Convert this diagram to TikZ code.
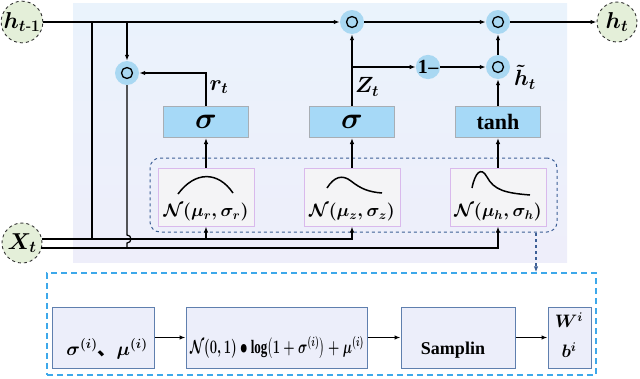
\RequirePackage{fix-cm}
\documentclass[tikz,border=0pt]{standalone}
\usepackage{fontspec}
\setmainfont{Liberation Serif}
\newfontfamily\cjkfont{Noto Sans CJK SC}
\usepackage{amsmath,bm,graphicx}
\usetikzlibrary{arrows.meta}
\definecolor{panelTop}{HTML}{EAF3FC}
\definecolor{panelBot}{HTML}{EEEEFA}
\definecolor{gateBlue}{HTML}{A6D9F7}
\definecolor{gateEdge}{HTML}{A8AEB4}
\definecolor{opBlue}{HTML}{A9D8F2}
\definecolor{stateGreen}{HTML}{E4EFD9}
\definecolor{gaussEdge}{HTML}{D9B9EC}
\definecolor{gaussFill}{HTML}{F4F4F6}
\definecolor{contDash}{HTML}{3D5F96}
\definecolor{lowDash}{HTML}{3DA8EA}
\definecolor{lowFill}{HTML}{ECEEFA}
\definecolor{lowEdge}{HTML}{5F7FAE}
\begin{document}
\begin{tikzpicture}[x=1pt,y=-1pt,
  >={Latex[length=6pt,width=4.5pt]},
  conn/.style={line width=1.2pt,->},
  wire/.style={line width=1.2pt},
  state/.style={circle,draw=black!80,dashed,fill=stateGreen,minimum size=40pt,inner sep=0pt,line width=0.9pt,font=\fontsize{23}{23}\selectfont\boldmath},
  op/.style={circle,fill=opBlue,minimum size=24pt,inner sep=0pt,
    path picture={\draw[line width=1.3pt] (path picture bounding box.center) circle (5.5pt);
                  \fill (path picture bounding box.center) circle (1.8pt);}},
  gate/.style={rectangle,draw=gateEdge,fill=gateBlue,minimum width=85pt,minimum height=31pt,line width=1pt,inner sep=0pt},
  gauss/.style={rectangle,draw=gaussEdge,fill=gaussFill,minimum width=96pt,minimum height=58pt,line width=1pt,inner sep=0pt},
  lowbox/.style={rectangle,draw=lowEdge,fill=lowFill,minimum height=61pt,line width=1pt,inner sep=0pt},
  lbl/.style={inner sep=0pt,font=\fontsize{22}{22}\selectfont\boldmath},
  gtxt/.style={inner sep=0pt,font=\fontsize{18}{18}\selectfont\boldmath},
  ltxt/.style={inner sep=0pt,font=\fontsize{19}{19}\selectfont\bfseries\boldmath},
  curve/.style={line width=1.5pt}
]
\useasboundingbox (0,0) rectangle (640,378);
% panel
\shade[top color=panelTop,bottom color=panelBot] (73,3) rectangle (567,262);

% states
\node[state] (hprev) at (22,22) {$h_{t\text{-}1}$};
\node[state] (ht) at (617,22) {$h_t$};
\node[state] (xt) at (22,243) {$X_t$};

% operators
\node[op] (m1) at (352,22) {};
\node[op] (m2) at (498,22) {};
\node[op] (m3) at (498,67) {};
\node[op] (mr) at (127,73) {};
\node[circle,fill=opBlue,minimum size=24pt,inner sep=0pt,font=\fontsize{20}{20}\selectfont\bfseries] (one) at (428,67) {1\kern0.5pt--};

% gates
\node[gate,font=\fontsize{30}{30}\selectfont\boldmath] (sr) at (206,122) {$\sigma$};
\node[gate,font=\fontsize{30}{30}\selectfont\boldmath] (sz) at (352,122) {$\sigma$};
\node[gate,font=\fontsize{22}{22}\selectfont\bfseries] (th) at (498,122) {tanh};

% gaussian container and boxes
\node[draw=contDash,dashed,rounded corners=10pt,line width=1pt,minimum width=407pt,minimum height=74pt,inner sep=0pt] (cont) at (353.5,195) {};
\node[gauss] (g1) at (206,197) {};
\node[gauss] (g2) at (352,197) {};
\node[gauss] (g3) at (498,197) {};
\node[gtxt] (t1) at (206,212) {$\mathcal{N}(\mu_r,\sigma_r)$};
\node[gtxt] (t2) at (352,212) {$\mathcal{N}(\mu_z,\sigma_z)$};
\node[gtxt] (t3) at (498,212) {$\mathcal{N}(\mu_h,\sigma_h)$};
\draw[curve] (178,194) .. controls (195,171) and (218,171) .. (233,193);
\draw[curve] (327,188) .. controls (334,177) and (342,174) .. (351,181) .. controls (361,189) and (369,192) .. (382,193);
\draw[curve] (472,188) .. controls (475,173) and (481,166) .. (487,177) .. controls (494,190) and (505,193) .. (530,195);

% top line
\coordinate (j1) at (92,22);
\coordinate (j2) at (127,22);
\draw[conn] (hprev) -- (m1);
\draw[conn] (m1) -- (m2);
\draw[conn] (m2) -- (ht);
\draw[conn] (j2) -- (mr);
\coordinate (xa) at (41.6,239);
\coordinate (xb) at (41.4,248);
\coordinate (xj1) at (92,239);
\draw[wire] (j1) -- (xj1);
\draw[wire] (mr) -- (127,235) arc (-90:90:4) -- (127,248);

% X_t lines
\draw[conn] (xa) -| (g2.south);
\draw[conn] (g1.south |- xa) -- (g1.south);
\draw[conn] (xb) -| (g3.south);

% gates
\draw[conn] (g1) -- (sr);
\draw[conn] (g2) -- (sz);
\draw[conn] (g3) -- (th);
\draw[conn] (sr.north) |- (mr);
\draw[conn] (sz) -- (m1);
\coordinate (zj) at (352,67);
\draw[conn] (zj) -- (one);
\draw[conn] (one) -- (m3);
\draw[conn] (th) -- (m3);
\draw[conn] (m3) -- (m2);

% labels
\node[lbl] (lr) at (219,87) {$r_t$};
\node[lbl] (lz) at (367,87) {$Z_t$};
\node[lbl,anchor=west] (lh) at (514,77) {$\tilde{h}_t$};

% lower part
\node[draw=lowDash,dashed,line width=1.3pt,dash pattern=on 6pt off 4pt,minimum width=549pt,minimum height=102pt,inner sep=0pt] (low) at (321.5,324) {};
\coordinate (da) at (536,233);
\draw[dashed,line width=1.2pt,contDash,->] (da) -- (da |- low.north);

\node[lowbox,minimum width=102pt] (A) at (103,337.5) {};
\node[lowbox,minimum width=181pt] (B) at (276.5,337.5) {};
\node[lowbox,minimum width=114pt] (C) at (458,337.5) {};
\node[lowbox,minimum width=43pt] (D) at (569.5,337.5) {};
\draw[conn] (A) -- (B);
\draw[conn] (B) -- (C);
\draw[conn] (C) -- (D);

\node[ltxt] (At) at (107,349) {$\sigma^{(i)}${\cjkfont 、}$\mu^{(i)}$};
\node[ltxt] (Bt) at (277,348) {\resizebox{174pt}{\height}{$\mathcal{N}(\mathbf{0,1})\bullet\log\bigl(\mathbf{1}+\sigma^{(i)}\bigr)+\mu^{(i)}$}};
\node[ltxt,font=\fontsize{18}{18}\selectfont\bfseries] (Ct) at (453,350) {Samplin};
\node[ltxt,font=\fontsize{18}{18}\selectfont\boldmath] (Dt1) at (569,320) {$W^i$};
\node[ltxt,font=\fontsize{18}{18}\selectfont\boldmath] (Dt2) at (569,350) {$b^i$};
\end{tikzpicture}
\end{document}
